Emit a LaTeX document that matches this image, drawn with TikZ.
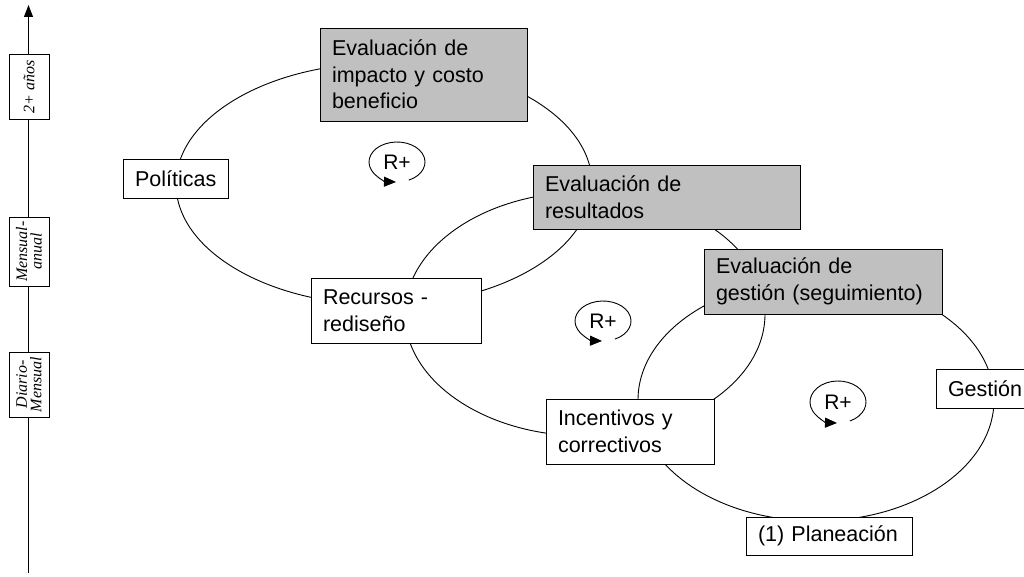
\documentclass[tikz,border=0pt]{standalone}
\usepackage{fontspec}
\setmainfont{Liberation Sans}
\newfontfamily\timesf{Liberation Serif}
\usetikzlibrary{arrows.meta}
\definecolor{boxgray}{RGB}{192,192,192}
\begin{document}
\begin{tikzpicture}[x=1pt,y=-1pt,
  loopline/.style={line width=0.9pt},
  box/.style={draw, line width=0.9pt, fill=white, align=left, inner xsep=12pt, inner ysep=0pt, font=\fontsize{21.5}{26.5}\selectfont},
  evalbox/.style={box, fill=boxgray},
  timebox/.style={draw, line width=0.9pt, fill=white, rotate=90, align=center, inner sep=0pt, font=\timesf\itshape\fontsize{16}{14.5}\selectfont, minimum height=40pt},
  rlabel/.style={font=\fontsize{21}{24}\selectfont, inner sep=0pt},
  looparrow/.style={line width=0.9pt, -{Triangle[length=12pt,width=10pt]}}
]
\useasboundingbox (0,0) rectangle (1024,577);
% time axis
\coordinate (axb) at (28.5,573);
\coordinate (axt) at (28.5,5);
\draw[line width=0.9pt, -{Triangle[length=12pt,width=9pt]}] (axb) -- (axt);
\node[timebox, minimum width=65pt] (t1) at (29,86.5) {2+ años};
\node[timebox, minimum width=69pt] (t2) at (29,251.5) {Mensual-\\anual};
\node[timebox, minimum width=65pt] (t3) at (29,384.5) {Diario-\\Mensual};
% loops
\draw[loopline] (384,184) ellipse [x radius=208pt, y radius=121pt];
\draw[loopline] (585,314) ellipse [x radius=180pt, y radius=122pt];
\draw[loopline] (816,400) ellipse [x radius=178pt, y radius=121pt];
% boxes
\node[evalbox, text width=183pt, minimum height=93pt] (imp) at (423.5,74.5) {Evaluación de\\impacto y costo\\beneficio};
\node[box, text width=81pt, minimum height=39pt] (pol) at (175.5,178.5) {Políticas};
\node[evalbox, text width=243pt, minimum height=64pt] (res) at (666.5,197) {Evaluación de\\resultados};
\node[box, text width=146pt, minimum height=65pt] (rec) at (396,310.5) {Recursos -\\rediseño};
\node[evalbox, text width=214pt, minimum height=65pt] (seg) at (823,281.5) {Evaluación de\\gestión (seguimiento)};
\node[box, text width=144pt, minimum height=65pt] (inc) at (630,431.5) {Incentivos y\\correctivos};
\node[box, text width=80pt, minimum height=39pt] (ges) at (988,388.5) {Gestión};
\node[box, text width=142pt, minimum height=38pt] (pla) at (829,536) {(1) Planeación};
% R+ markers
\node[rlabel] (r1) at (397,162) {R+};
\node[rlabel] (r2) at (603,321) {R+};
\node[rlabel] (r3) at (838,402) {R+};
\draw[looparrow] ([shift={(-65:28pt and 20pt)}]r1.center) arc[start angle=-65, end angle=268, x radius=28pt, y radius=20pt];
\draw[looparrow] ([shift={(-65:28pt and 20pt)}]r2.center) arc[start angle=-65, end angle=268, x radius=28pt, y radius=20pt];
\draw[looparrow] ([shift={(-65:28pt and 21pt)}]r3.center) arc[start angle=-65, end angle=268, x radius=28pt, y radius=21pt];
\end{tikzpicture}
\end{document}
